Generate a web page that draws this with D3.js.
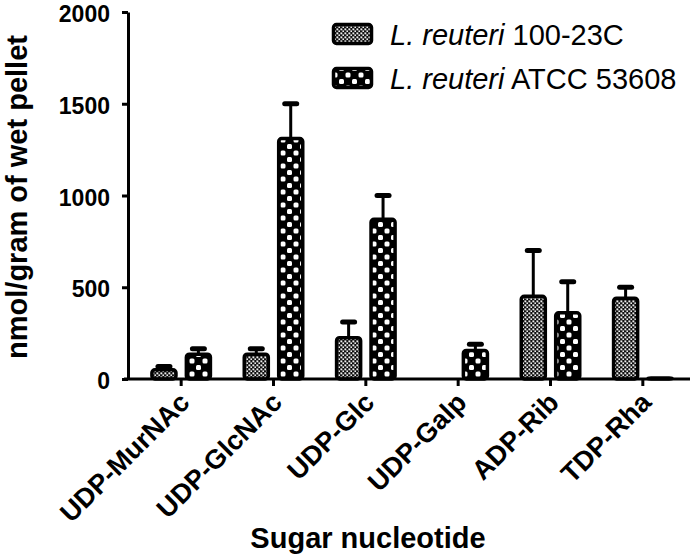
<!DOCTYPE html>
<html><head><meta charset="utf-8">
<script src="https://cdn.jsdelivr.net/npm/d3@7"></script>
<style>
html,body{margin:0;padding:0;background:#fff;}
svg{display:block;font-family:"Liberation Sans",Arial,sans-serif;}
</style></head>
<body>
<svg id="chart" width="690" height="559"></svg>
<script>
const categories = ["UDP-MurNAc","UDP-GlcNAc","UDP-Glc","UDP-Galp","ADP-Rib","TDP-Rha"];
const seriesNames = ["100-23C","ATCC 53608"];
const valuesA = [60, 145, 235, 0, 460, 450];      // L. reuteri 100-23C
const errorsA = [8, 20, 75, 0, 240, 50];
const valuesB = [145, 1320, 880, 165, 370, 15];   // L. reuteri ATCC 53608
const errorsB = [20, 180, 120, 25, 160, 0];
const yTicks = [0, 500, 1000, 1500, 2000];

const svg = d3.select("#chart");
const defs = svg.append("defs");
// fine checker pattern (100-23C)
const pA = defs.append("pattern").attr("id","patA").attr("patternUnits","userSpaceOnUse")
  .attr("width",4).attr("height",4);
pA.append("rect").attr("width",4).attr("height",4).attr("fill","#111");
pA.append("rect").attr("x",0.4).attr("y",0.4).attr("width",1.9).attr("height",1.9).attr("fill","#eee");
pA.append("rect").attr("x",2.4).attr("y",2.4).attr("width",1.9).attr("height",1.9).attr("fill","#eee");
// coarse checker pattern (ATCC)
const pB = defs.append("pattern").attr("id","patB").attr("patternUnits","userSpaceOnUse")
  .attr("width",13).attr("height",13);
pB.append("rect").attr("width",13).attr("height",13).attr("fill","#000");
pB.append("rect").attr("x",1).attr("y",1).attr("width",5).attr("height",5).attr("rx",1.5).attr("fill","#fff");
pB.append("rect").attr("x",7.5).attr("y",7.5).attr("width",5).attr("height",5).attr("rx",1.5).attr("fill","#fff");
const fills = ["url(#patA)","url(#patB)"];

const y = d3.scaleLinear().domain([0,2000]).range([379,12]);
const x0 = d3.scaleBand().domain(categories).range([135,689]).padding(0);
const pairW = 62;
const x1 = d3.scaleBand().domain(seriesNames).range([x0.bandwidth()/2 - pairW/2, x0.bandwidth()/2 + pairW/2]).paddingInner(0.2);

const data = [];
categories.forEach((c,i)=>{
  data.push({cat:c, s:seriesNames[0], v:valuesA[i], e:errorsA[i], f:0});
  data.push({cat:c, s:seriesNames[1], v:valuesB[i], e:errorsB[i], f:1});
});

const sw = 3.5;
// error bars (upward only)
const eb = svg.append("g").attr("stroke","#000").attr("stroke-linecap","round");
data.filter(d=>d.v>0 && d.e>0).forEach(d=>{
  const cx = x0(d.cat) + x1(d.s) + x1.bandwidth()/2;
  eb.append("line").attr("x1",cx).attr("x2",cx).attr("y1",y(d.v)).attr("y2",y(d.v+d.e)).attr("stroke-width",3);
  eb.append("line").attr("x1",cx-6).attr("x2",cx+6).attr("y1",y(d.v+d.e)).attr("y2",y(d.v+d.e)).attr("stroke-width",5);
});
// bars
svg.append("g").selectAll("rect").data(data.filter(d=>d.v>0)).join("rect")
  .attr("x",d=>x0(d.cat)+x1(d.s)+sw/2)
  .attr("width",x1.bandwidth()-sw)
  .attr("y",d=>y(d.v)+sw/2)
  .attr("height",d=>Math.max(0.5, y(0)-y(d.v)-sw/2))
  .attr("rx",3)
  .attr("fill",d=>fills[d.f])
  .attr("stroke","#000").attr("stroke-width",sw);

// y axis
const yAxis = svg.append("g").attr("transform","translate(128,0)")
  .call(d3.axisLeft(y).tickValues(yTicks).tickFormat(d3.format("d")).tickSize(6).tickSizeOuter(0).tickPadding(12));
yAxis.select(".domain").attr("stroke-width",3);
yAxis.selectAll(".tick line").attr("stroke-width",3);
yAxis.selectAll(".tick text").attr("font-size",23).attr("font-weight","bold").attr("dy","0.42em")
  .attr("font-family","'Liberation Sans',Arial,sans-serif").attr("fill","#000");

// x axis
const xAxis = svg.append("g").attr("transform","translate(0,379)")
  .call(d3.axisBottom(x0).tickSize(7).tickSizeOuter(0));
xAxis.select(".domain").remove();
xAxis.append("line").attr("x1",124).attr("x2",690).attr("y1",0).attr("y2",0).attr("stroke","#000").attr("stroke-width",3);
xAxis.selectAll(".tick line").attr("stroke-width",3);
xAxis.selectAll(".tick text")
  .attr("font-size",27).attr("font-weight","bold").attr("fill","#000")
  .attr("font-family","'Liberation Sans',Arial,sans-serif")
  .attr("text-anchor","end").attr("dy",null).attr("y",null)
  .attr("transform","translate(10,25) rotate(-45)");

// axis titles
svg.append("text").attr("transform","translate(27,197) rotate(-90)")
  .attr("text-anchor","middle").attr("font-size",29).attr("font-weight","bold")
  .text("nmol/gram of wet pellet");
svg.append("text").attr("x",368).attr("y",548)
  .attr("text-anchor","middle").attr("font-size",29).attr("font-weight","bold")
  .text("Sugar nucleotide");

// legend
const leg = svg.append("g");
seriesNames.forEach((s,i)=>{
  const yy = 23 + i*44;
  leg.append("rect").attr("x",333.5).attr("y",yy+1.5).attr("width",38).attr("height",19)
    .attr("rx",3).attr("fill",fills[i]).attr("stroke","#000").attr("stroke-width",sw);
  const t = leg.append("text").attr("x",390).attr("y",yy+22).attr("font-size",29);
  t.append("tspan").attr("font-style","italic").text("L. reuteri");
  t.append("tspan").text(" " + s);
});
</script>
</body></html>
